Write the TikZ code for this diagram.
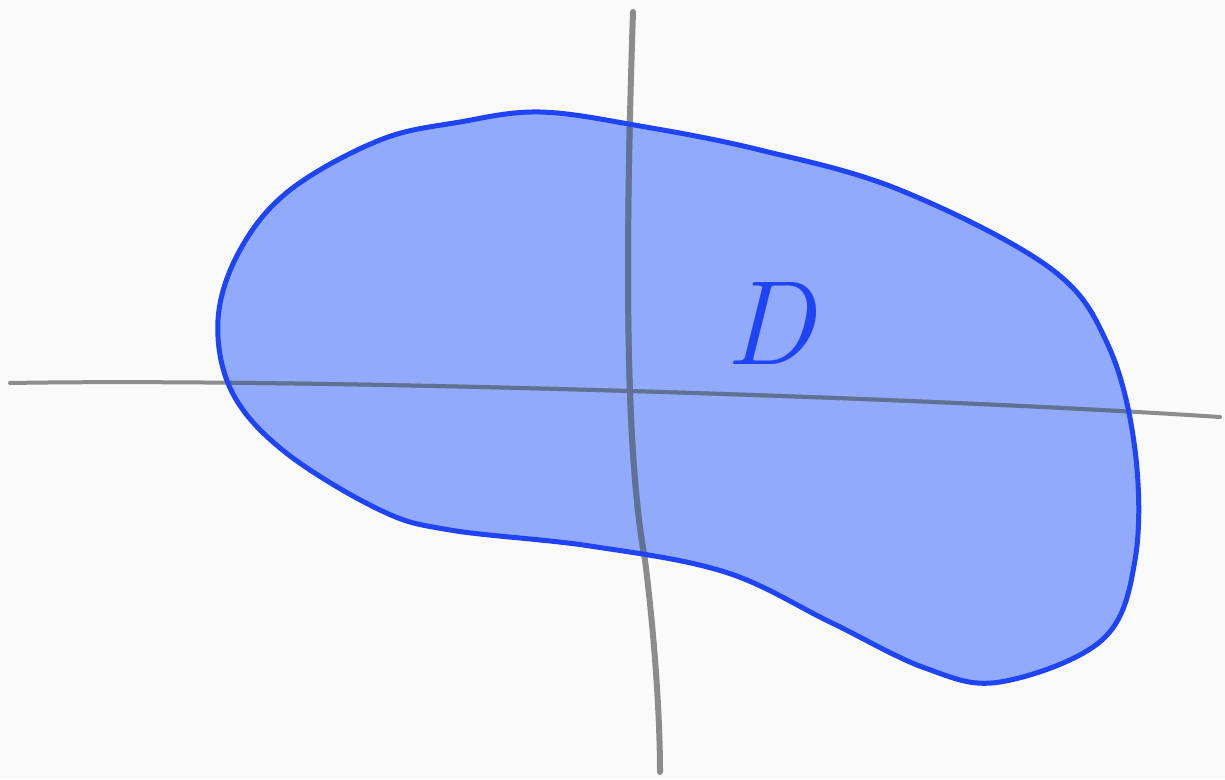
\documentclass[tikz,border=0pt]{standalone}
\usepackage{fontspec}
\usepackage{xcolor}
\definecolor{blobfill}{HTML}{92AAFB}
\definecolor{blobline}{HTML}{1F44F5}
\definecolor{axisgray}{HTML}{8C8C8C}
\definecolor{axisdark}{HTML}{5F7296}
\begin{document}
\begin{tikzpicture}[x=1pt, y=-1pt, line cap=round, line join=round,
  axis/.style={line width=#1},
  rim/.style={draw=blobline, line width=5pt}]
  \useasboundingbox[fill=white!98!black] (0,0) rectangle (1225,779);
  % region D
  \def\blobpath{plot[smooth cycle, tension=0.6] coordinates {(540,112) (640,126) (760,150) (900,190) (1050,268) (1108,345) (1135,450) (1135,560) (1102,640) (1000,682) (925,668) (830,622) (725,572) (590,546) (450,530) (380,510) (285,452) (232,392) (218,320) (240,250) (290,190) (380,140) (460,122)}}
  \fill[blobfill] \blobpath;
  % axes
  \draw[axisgray, axis=4pt] (10,383) .. controls (300,378) and (900,396) .. (1220,417);
  \draw[axisgray, axis=6pt] (633,12) .. controls (625,250) and (625,450) .. (645,560) .. controls (655,640) and (660,720) .. (660,772);
  \begin{scope}
    \clip \blobpath;
    \draw[axisdark, axis=4pt] (10,383) .. controls (300,378) and (900,396) .. (1220,417);
    \draw[axisdark, axis=6pt] (633,12) .. controls (625,250) and (625,450) .. (645,560) .. controls (655,640) and (660,720) .. (660,772);
  \end{scope}
  \draw[rim] \blobpath;
  \node[text=blobline, font=\fontsize{120}{120}\selectfont\itshape] (lblD) at (770,324) {D};
\end{tikzpicture}
\end{document}
